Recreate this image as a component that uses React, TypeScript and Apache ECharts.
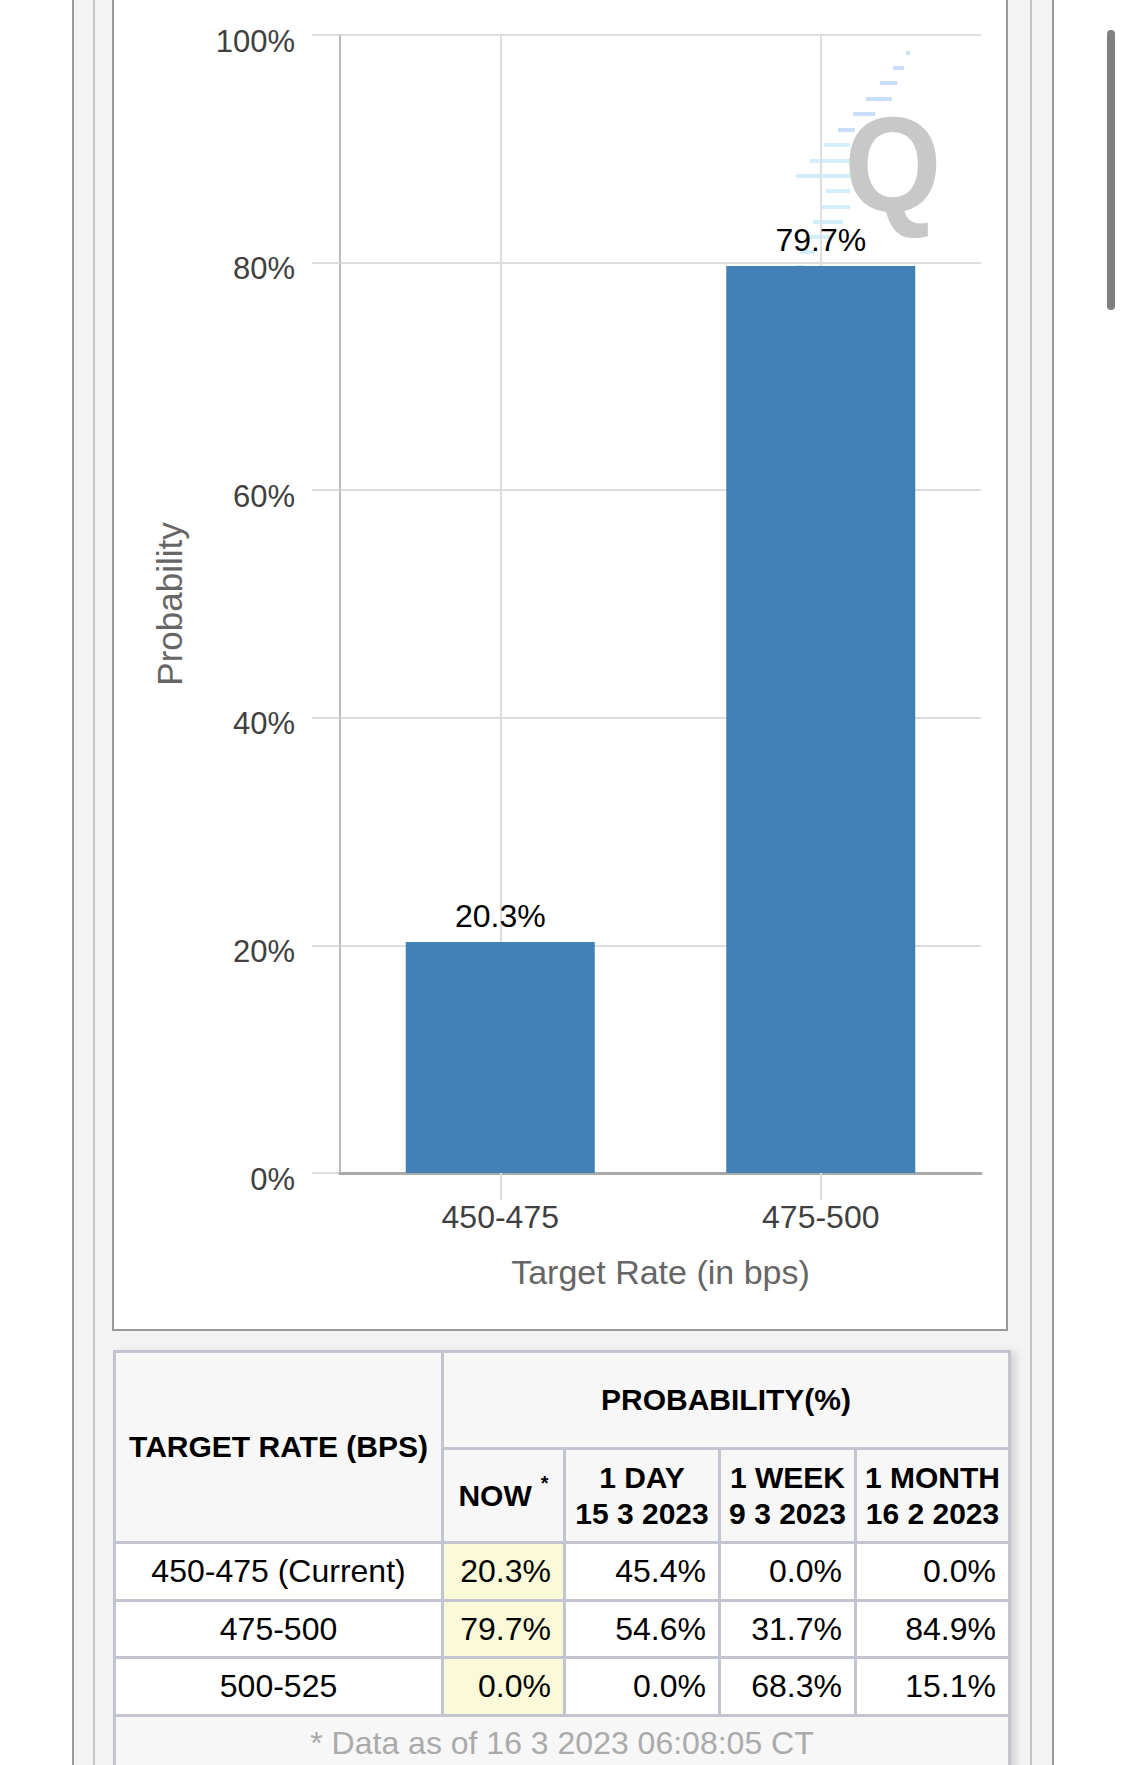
import React, { useEffect, useRef } from 'react';
import * as echarts from 'echarts';

// ---------- data ----------
const chartCategories = ['450-475', '475-500'];
const chartProbabilities = [20.3, 79.7];
const yAxisMin = 0;
const yAxisMax = 100;
const yAxisStep = 20;

const tableRates = ['450-475 (Current)', '475-500', '500-525'];
const nowProbabilities = [20.3, 79.7, 0.0];
const oneDayProbabilities = [45.4, 54.6, 0.0];
const oneWeekProbabilities = [0.0, 31.7, 68.3];
const oneMonthProbabilities = [0.0, 84.9, 15.1];
const periodTitles = ['1 DAY', '1 WEEK', '1 MONTH'];
const periodDates = ['15 3 2023', '9 3 2023', '16 2 2023'];
const footnote = '* Data as of 16 3 2023 06:08:05 CT';

const FONT = '"Liberation Sans", Arial, Helvetica, sans-serif';

// decorative watermark dashes [y, x1, x2]
const WM_DASHES: number[][] = [
  [53, 906, 910], [68, 893, 904], [83, 880, 897], [99, 866, 892], [114, 853, 875],
  [130, 838, 855], [145, 824, 850], [161, 810, 850], [176, 796, 850], [191, 826, 850],
  [207, 820, 850], [222, 813, 843], [237, 807, 832], [252, 800, 815], [267, 797, 803],
];

function Chart() {
  const ref = useRef<HTMLDivElement>(null);
  useEffect(() => {
    if (!ref.current) return;
    const chart = echarts.init(ref.current, undefined, { renderer: 'svg' });
    const dashes = WM_DASHES.map((d, i) => ({
      type: 'rect',
      shape: { x: d[1], y: d[0] - 2, width: d[2] - d[1], height: 4 },
      style: { fill: i < 6 ? '#c9def8' : '#d2eefa' },
      z: 0,
      silent: true,
    }));
    const option: any = {
      animation: false,
      textStyle: { fontFamily: FONT },
      grid: { left: 340, right: 144, top: 35, bottom: 157, containLabel: false },
      xAxis: [
        {
          type: 'category',
          data: chartCategories,
          boundaryGap: true,
          name: 'Target Rate (in bps)',
          nameLocation: 'middle',
          nameGap: 82,
          nameTextStyle: { fontSize: 34, color: '#666', fontFamily: FONT },
          axisLine: { show: true, lineStyle: { color: '#aaa', width: 3 } },
          axisTick: { show: true, alignWithLabel: true, length: 27, lineStyle: { color: '#ddd', width: 2 } },
          axisLabel: { fontSize: 32, color: '#404040', margin: 28, fontFamily: FONT },
          splitLine: { show: false },
          z: 3,
        },
        {
          type: 'value',
          position: 'top',
          min: 0,
          max: 4,
          interval: 1,
          axisLine: { show: false },
          axisTick: { show: false },
          axisLabel: { show: false },
          splitLine: {
            show: true,
            showMinLine: true,
            showMaxLine: true,
            lineStyle: { color: ['rgba(0,0,0,0)', '#dedede'], width: 2 },
          },
        },
      ],
      yAxis: {
        type: 'value',
        min: yAxisMin,
        max: yAxisMax,
        interval: yAxisStep,
        name: 'Probability',
        nameLocation: 'middle',
        nameGap: 153,
        nameTextStyle: { fontSize: 35, color: '#666', fontFamily: FONT },
        axisLine: { show: true, lineStyle: { color: '#bbb', width: 2 } },
        axisTick: { show: true, length: 28, lineStyle: { color: '#ddd', width: 2 } },
        axisLabel: {
          margin: 45,
          formatter: (v: number) => '{a|' + v + '%}',
          rich: {
            a: { fontSize: 31, color: '#404040', fontFamily: FONT, padding: [12, 0, 0, 0] },
          },
        },
        splitLine: { show: true, lineStyle: { color: '#ddd', width: 2 } },
      },
      series: [
        {
          type: 'bar',
          xAxisIndex: 0,
          yAxisIndex: 0,
          data: chartProbabilities,
          barWidth: 189,
          itemStyle: { color: '#4380b5' },
          label: {
            show: true,
            position: 'top',
            distance: 10,
            fontSize: 32,
            color: '#000',
            fontFamily: FONT,
            formatter: (p: any) => Number(p.value).toFixed(1) + '%',
          },
          z: 3,
        },
      ],
      graphic: [
        ...dashes,
        {
          type: 'group',
          x: 893,
          y: 164,
          scaleX: 0.92,
          z: 1,
          silent: true,
          children: [
            {
              type: 'text',
              style: {
                text: 'Q',
                x: 0,
                y: 0,
                align: 'center',
                verticalAlign: 'middle',
                fontSize: 136,
                fontWeight: 'bold',
                fontFamily: FONT,
                fill: '#c8c8c8',
              },
            },
          ],
        },
      ],
    };
    chart.setOption(option);
    return () => chart.dispose();
  }, []);
  return (
    <div
      ref={ref}
      style={{ position: 'absolute', left: 0, top: 0, width: 1125, height: 1330 }}
    />
  );
}

// table geometry (content boxes between 3px lines)
const COLS = [
  [116, 441],
  [444, 563],
  [566, 718],
  [721, 854],
  [857, 1008],
];
const ROWS = [
  [1544, 1599],
  [1602, 1656],
  [1659, 1714],
];

function Cell(props: {
  x1: number; x2: number; y1: number; y2: number; bg: string;
  justify?: string; pr?: number; children?: any; style?: any;
}) {
  const { x1, x2, y1, y2, bg, justify = 'center', pr = 0, children, style } = props;
  return (
    <div
      style={{
        position: 'absolute',
        left: x1,
        top: y1,
        width: x2 - x1,
        height: y2 - y1,
        background: bg,
        display: 'flex',
        alignItems: 'center',
        justifyContent: justify,
        paddingRight: pr,
        boxSizing: 'border-box',
        ...style,
      }}
    >
      {children}
    </div>
  );
}

function ProbTable() {
  const headBg = '#f7f7f7';
  const bold = { fontWeight: 'bold', fontSize: 30, color: '#000', fontFamily: FONT };
  const reg = { fontSize: 32, color: '#000', fontFamily: FONT };
  const cols = [nowProbabilities, oneDayProbabilities, oneWeekProbabilities, oneMonthProbabilities];
  return (
    <>
      <div
        style={{
          position: 'absolute',
          left: 113,
          top: 1350,
          width: 898,
          height: 460,
          background: '#c2c5cf',
          boxShadow: '5px 2px 7px rgba(0,0,0,0.13)',
        }}
      />
      <Cell x1={COLS[0][0]} x2={COLS[0][1]} y1={1353} y2={1541} bg={headBg}>
        <span style={bold}>TARGET RATE (BPS)</span>
      </Cell>
      <Cell x1={COLS[1][0]} x2={COLS[4][1]} y1={1353} y2={1447} bg={headBg}>
        <span style={bold}>PROBABILITY(%)</span>
      </Cell>
      <Cell x1={COLS[1][0]} x2={COLS[1][1]} y1={1450} y2={1541} bg={headBg}>
        <span style={bold}>NOW</span>
        <span style={{ ...bold, fontSize: 20, marginLeft: 9, position: 'relative', top: -12 }}>*</span>
      </Cell>
      {periodTitles.map((t, i) => (
        <Cell key={t} x1={COLS[i + 2][0]} x2={COLS[i + 2][1]} y1={1450} y2={1541} bg={headBg}>
          <div style={{ ...bold, textAlign: 'center', lineHeight: '36px' }}>
            <div>{t}</div>
            <div>{periodDates[i]}</div>
          </div>
        </Cell>
      ))}
      {tableRates.map((r, ri) => (
        <React.Fragment key={r}>
          <Cell x1={COLS[0][0]} x2={COLS[0][1]} y1={ROWS[ri][0]} y2={ROWS[ri][1]} bg="#fff">
            <span style={reg}>{r}</span>
          </Cell>
          {cols.map((c, ci) => (
            <Cell
              key={ci}
              x1={COLS[ci + 1][0]}
              x2={COLS[ci + 1][1]}
              y1={ROWS[ri][0]}
              y2={ROWS[ri][1]}
              bg={ci === 0 ? '#fafad8' : '#fff'}
              justify="flex-end"
              pr={12}
            >
              <span style={reg}>{c[ri].toFixed(1)}%</span>
            </Cell>
          ))}
        </React.Fragment>
      ))}
      <Cell x1={COLS[0][0]} x2={COLS[4][1]} y1={1717} y2={1810} bg={headBg} style={{ alignItems: 'flex-start', paddingTop: 8 }}>
        <span style={{ ...reg, color: '#aaa' }}>{footnote}</span>
      </Cell>
    </>
  );
}

export default function App() {
  return (
    <div
      style={{
        position: 'absolute',
        left: 0,
        top: 0,
        width: 1125,
        height: 1765,
        overflow: 'hidden',
        background: '#fff',
        fontFamily: FONT,
      }}
    >
      {/* outer frame */}
      <div
        style={{
          position: 'absolute',
          left: 72,
          top: -10,
          width: 982,
          height: 1800,
          background: '#f3f3f3',
          borderLeft: '2px solid #9a9a9a',
          borderRight: '2px solid #9a9a9a',
          boxSizing: 'border-box',
        }}
      />
      <div
        style={{
          position: 'absolute',
          left: 93,
          top: -10,
          width: 939,
          height: 1800,
          background: '#f3f3f3',
          borderLeft: '2px solid #c4c4c4',
          borderRight: '2px solid #c4c4c4',
          boxSizing: 'border-box',
        }}
      />
      {/* chart box */}
      <div
        style={{
          position: 'absolute',
          left: 112,
          top: -10,
          width: 896,
          height: 1341,
          background: '#fff',
          border: '2px solid #9a9a9a',
          boxSizing: 'border-box',
        }}
      />
      <ProbTable />
      <Chart />
      {/* scrollbar */}
      <div
        style={{
          position: 'absolute',
          left: 1107,
          top: 30,
          width: 8,
          height: 280,
          background: '#808080',
          borderRadius: 4,
        }}
      />
    </div>
  );
}
